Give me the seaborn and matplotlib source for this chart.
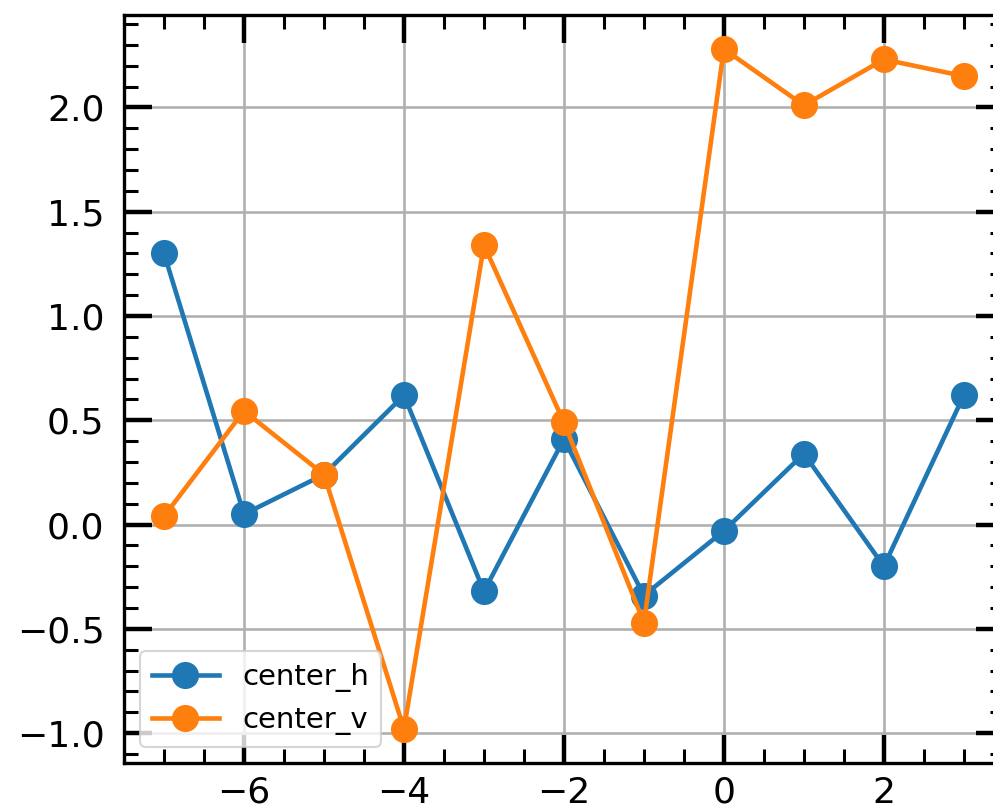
import numpy as np
import pandas as pd
import seaborn as sns
import matplotlib
matplotlib.use("Agg")
import matplotlib.pyplot as plt
from matplotlib.ticker import AutoMinorLocator

offsets = [-7, -6, -5, -4, -3, -2, -1, 0, 1, 2, 3]
center_h = [1.30, 0.05, 0.24, 0.62, -0.32, 0.41, -0.34, -0.03, 0.34, -0.20, 0.62]
center_v = [0.04, 0.545, 0.24, -0.98, 1.34, 0.49, -0.47, 2.28, 2.01, 2.23, 2.15]
series_names = ["center_h", "center_v"]
series_colors = ["#1f77b4", "#ff7f0e"]

fig = plt.figure(figsize=(9.93, 8.07), dpi=100)
ax = fig.add_axes([0.1249, 0.0545, 0.886, 0.9269])

for name, vals, col in zip(series_names, [center_h, center_v], series_colors):
    df = pd.DataFrame({"x": offsets, "y": vals})
    sns.lineplot(data=df, x="x", y="y", ax=ax, color=col, label=name,
                 marker="o", markersize=19.5, markeredgewidth=0,
                 markeredgecolor=col, linewidth=3.3)

ax.set_xlabel("")
ax.set_ylabel("")
ax.margins(x=0.05, y=0.05)
ax.set_xticks([-6, -4, -2, 0, 2])
ax.set_yticks([-1.0, -0.5, 0.0, 0.5, 1.0, 1.5, 2.0])
ax.xaxis.set_minor_locator(AutoMinorLocator())
ax.yaxis.set_minor_locator(AutoMinorLocator())
ax.tick_params(which="both", direction="in", top=True, right=True,
               labelsize=26)
ax.tick_params(which="major", length=20, width=3.2)
ax.tick_params(axis="y", which="major", pad=14)
ax.tick_params(axis="x", which="major", pad=9)
ax.tick_params(which="minor", length=10, width=2.2)
for sp in ax.spines.values():
    sp.set_linewidth(2.4)
ax.grid(True, color="#b0b0b0", linewidth=1.9)
ax.set_axisbelow(True)

leg = ax.legend(loc="lower left", fontsize=21, handlelength=2.3,
                handletextpad=0.8, borderaxespad=0.55, framealpha=0.8)
leg.get_frame().set_linewidth(1.5)

fig.savefig("out.png", dpi=100)
